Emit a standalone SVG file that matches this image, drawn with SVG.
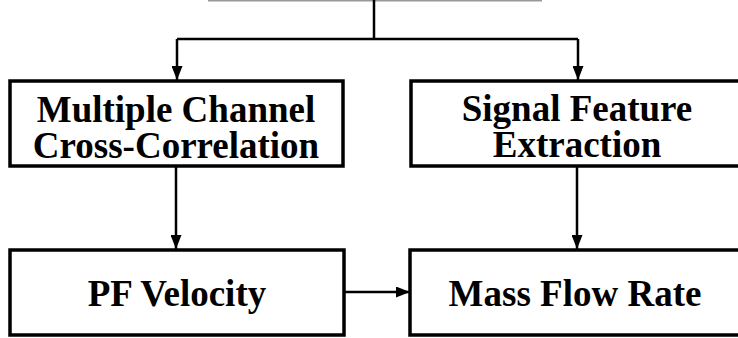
<svg xmlns="http://www.w3.org/2000/svg" width="738" height="338" viewBox="0 0 738 338">
<style>
.box{fill:#fff;stroke:#000;stroke-width:3.5}
.lbl{font-family:"Liberation Serif","Times New Roman",serif;font-weight:bold;font-size:37px;fill:#000;text-anchor:middle}
.con{fill:none;stroke:#000;stroke-width:2.5}
</style>
<defs>
<marker id="ah" markerUnits="userSpaceOnUse" markerWidth="14" markerHeight="11" refX="14" refY="5.5" orient="auto">
<path d="M0,0 L14,5.5 L0,11 z" fill="#000"/>
</marker>
</defs>
<line x1="208" y1="0.5" x2="542" y2="0.5" stroke="#999" stroke-width="2"/>
<g id="connectors">
<path class="con" d="M374,0 V39 M177,39 H578"/>
<path class="con" d="M177,39 V80" marker-end="url(#ah)"/>
<path class="con" d="M578,39 V80" marker-end="url(#ah)"/>
<path class="con" d="M176,166 V249" marker-end="url(#ah)"/>
<path class="con" d="M577,166 V249" marker-end="url(#ah)"/>
<path class="con" d="M344,292 H410" marker-end="url(#ah)"/>
</g>
<g id="mcc">
<rect class="box" x="10" y="81" width="333" height="85"/>
<text class="lbl" x="176" y="122">Multiple Channel</text>
<text class="lbl" x="176" y="158">Cross-Correlation</text>
</g>
<g id="sfe">
<rect class="box" x="411" y="81" width="333" height="85"/>
<text class="lbl" x="577" y="121">Signal Feature</text>
<text class="lbl" x="577" y="157">Extraction</text>
</g>
<g id="pfv">
<rect class="box" x="10" y="250" width="334" height="85"/>
<text class="lbl" x="177" y="306">PF Velocity</text>
</g>
<g id="mfr">
<rect class="box" x="410" y="250" width="334" height="85"/>
<text class="lbl" x="575" y="306">Mass Flow Rate</text>
</g>
</svg>
